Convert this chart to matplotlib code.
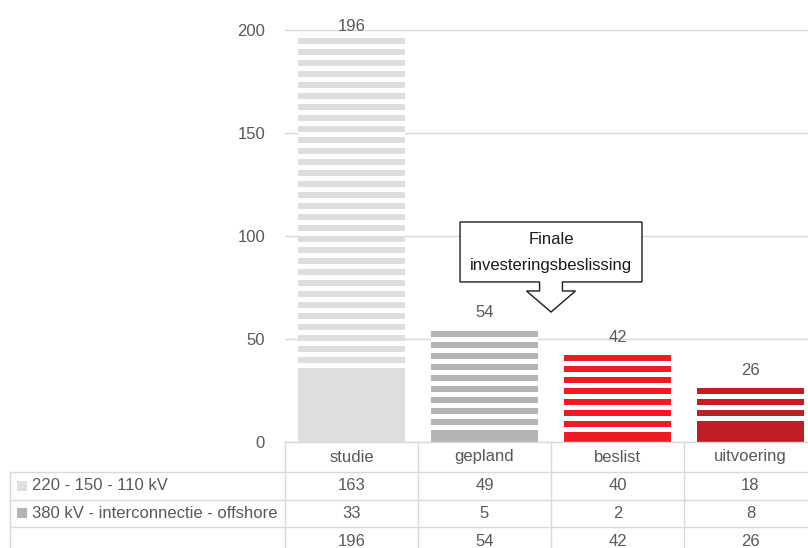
import matplotlib
matplotlib.use("Agg")
import matplotlib.pyplot as plt
from matplotlib.lines import Line2D
from matplotlib.patches import Polygon, Rectangle
from matplotlib.transforms import blended_transform_factory

# ---- data -------------------------------------------------------------
categories = ["studie", "gepland", "beslist", "uitvoering"]
hv_values = [163, 49, 40, 18]          # 220 - 150 - 110 kV
ehv_values = [33, 5, 2, 8]             # 380 kV - interconnectie - offshore
series_names = ["220 - 150 - 110 kV", "380 kV - interconnectie - offshore"]
y_ticks = [0, 50, 100, 150, 200]
callout_text = ["Finale", "investeringsbeslissing"]

totals = [a + b for a, b in zip(hv_values, ehv_values)]

# ---- style ------------------------------------------------------------
bar_colors = ["#dedede", "#b4b4b4", "#ed1c24", "#be1e24"]
key_colors = ["#e0e0e0", "#b3b3b3"]
text_color = "#595959"
grid_color = "#d9d9d9"
FS = 9.1
STRIPE_PERIOD_PX = 11   # band + gap of the striped fill
STRIPE_BAND_PX = 6

DPI = 132
W, H = 808, 548
plt.rcParams["font.family"] = ["Liberation Sans", "DejaVu Sans"]

fig = plt.figure(figsize=(W / DPI, H / DPI), dpi=DPI)


def fx(px):
    return px / W


def fy(py):
    return 1 - py / H


# plot area (the last column runs past the right edge)
ax_left, ax_right, ax_top, ax_bottom = 285, 817, 30, 442
ax = fig.add_axes([fx(ax_left), fy(ax_bottom), (ax_right - ax_left) / W,
                   (ax_bottom - ax_top) / H])
ax.set_xlim(-0.5, len(categories) - 0.5)
ax.set_ylim(0, 200)

x = list(range(len(categories)))
bar_w = 0.81

ax.bar(x, ehv_values, width=bar_w, color=bar_colors, linewidth=0, zorder=2)
ax.bar(x, hv_values, width=bar_w, bottom=ehv_values, color=bar_colors,
       linewidth=0, zorder=2)

# striped fill of the upper segment: white gaps laid over the bar,
# the pattern starting from the top of each bar
px_per_unit = (ax.transData.transform((0, 1)) - ax.transData.transform((0, 0)))[1]
period = STRIPE_PERIOD_PX / px_per_unit
band = STRIPE_BAND_PX / px_per_unit
for xi, base, top in zip(x, ehv_values, totals):
    k = 0
    while top - k * period - band > base:
        hi = top - k * period - band
        lo = max(top - (k + 1) * period, base)
        ax.bar(xi, hi - lo, width=bar_w, bottom=lo, color="white",
               linewidth=0, zorder=3)
        k += 1

for xi, t in zip(x, totals):
    ax.text(xi, min(t + 8.7, 201.9), f"{t}", ha="center", va="center",
            fontsize=FS, color=text_color, clip_on=False)

ax.set_yticks(y_ticks)
ax.set_xticks([])
ax.tick_params(axis="y", length=0, pad=10.9, labelsize=FS, labelcolor=text_color)
ax.yaxis.grid(True, color=grid_color, linewidth=0.8, zorder=0)
ax.set_axisbelow(True)
for s in ax.spines.values():
    s.set_visible(False)

# ---- callout arrow between "gepland" and "beslist" -------------------
cx = 1.5
box_half, stem_half, head_half = 0.684, 0.086, 0.184
box_top, box_bot, stem_bot, tip = 106.8, 77.7, 73.3, 63.1
pts = [
    (cx - box_half, box_top), (cx + box_half, box_top), (cx + box_half, box_bot),
    (cx + stem_half, box_bot), (cx + stem_half, stem_bot), (cx + head_half, stem_bot),
    (cx, tip), (cx - head_half, stem_bot), (cx - stem_half, stem_bot),
    (cx - stem_half, box_bot), (cx - box_half, box_bot),
]
ax.add_patch(Polygon(pts, closed=True, facecolor="white", edgecolor="#1a1a1a",
                     linewidth=0.75, zorder=5, clip_on=False))
ax.text(cx, 98.1, callout_text[0], ha="center", va="center", fontsize=FS,
        color="#1a1a1a", zorder=6)
ax.text(cx, 85.9, callout_text[1], ha="center", va="center", fontsize=FS,
        color="#1a1a1a", zorder=6)

# ---- data table under the chart ---------------------------------------
lw = 0.75


def hline(y, x0, x1):
    fig.add_artist(Line2D([fx(x0), fx(x1)], [fy(y), fy(y)], color=grid_color, lw=lw))


def vline(xp, y0, y1):
    fig.add_artist(Line2D([fx(xp), fx(xp)], [fy(y0), fy(y1)], color=grid_color, lw=lw))


row_lines = [472, 499.5, 526.5]
hline(ax_bottom, ax_left, W)
for r in row_lines:
    hline(r, 10, W)
vline(10, row_lines[0], H)
for i in range(len(categories)):
    vline(ax_left + i * (ax_right - ax_left) / len(categories), ax_bottom, H)

tr = blended_transform_factory(ax.transData, fig.transFigure)
header_y, row_ys = 457, [486, 513, 541]

for xi, c in zip(x, categories):
    fig.text(xi, fy(header_y), c, transform=tr, ha="center", va="center",
             fontsize=FS, color=text_color)

for row_y, vals in zip(row_ys, [hv_values, ehv_values, totals]):
    for xi, v in zip(x, vals):
        fig.text(xi, fy(row_y), f"{v}", transform=tr, ha="center", va="center",
                 fontsize=FS, color=text_color)

for row_y, name, kc in zip(row_ys[:2], series_names, key_colors):
    fig.add_artist(Rectangle((fx(17), fy(row_y + 5)), 10 / W, 10 / H,
                             facecolor=kc, edgecolor="none", transform=fig.transFigure))
    fig.text(fx(32), fy(row_y), name, ha="left", va="center",
             fontsize=FS, color=text_color)

fig.savefig("out.png", dpi=DPI)
